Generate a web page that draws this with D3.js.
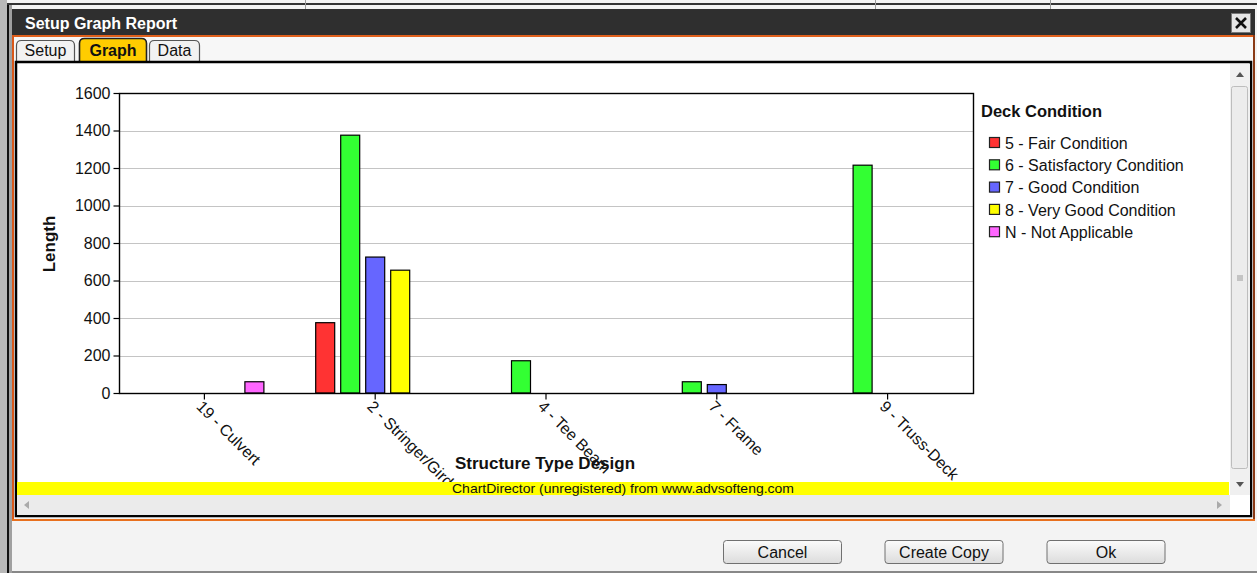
<!DOCTYPE html>
<html>
<head>
<meta charset="utf-8">
<script src="https://cdn.jsdelivr.net/npm/d3@7"></script>
<style>
  html, body { margin: 0; padding: 0; background: #f0f0f0; overflow: hidden; }
  svg { display: block; font-family: Arial, "Liberation Sans", sans-serif; }
</style>
</head>
<body>
<svg id="chart" width="1257" height="573"></svg>
<script>
// ---------- data ----------
const categories = ["19 - Culvert", "2 - Stringer/Girder", "4 - Tee Beam", "7 - Frame", "9 - Truss-Deck"];
const seriesNames = ["5 - Fair Condition", "6 - Satisfactory Condition", "7 - Good Condition", "8 - Very Good Condition", "N - Not Applicable"];
const fairCondition = [0, 375, 0, 0, 0];
const satisfactoryCondition = [0, 1375, 172, 60, 1215];
const goodCondition = [0, 725, 0, 45, 0];
const veryGoodCondition = [0, 655, 0, 0, 0];
const notApplicable = [60, 0, 0, 0, 0];
const seriesColors = ["#ff3333", "#33ff33", "#6666ff", "#ffff00", "#ff66ff"];
const yTicks = [0, 200, 400, 600, 800, 1000, 1200, 1400, 1600];
const seriesValues = [fairCondition, satisfactoryCondition, goodCondition, veryGoodCondition, notApplicable];

const svg = d3.select("#chart");

// ---------- window chrome ----------
svg.append("rect").attr("x", 0).attr("y", 0).attr("width", 1257).attr("height", 573).attr("fill", "#f3f3f3");
svg.append("rect").attr("x", 0).attr("y", 0).attr("width", 7).attr("height", 573).attr("fill", "#b8b8b8");
svg.append("rect").attr("x", 7).attr("y", 3).attr("width", 2).attr("height", 570).attr("fill", "#111");
svg.append("rect").attr("x", 9).attr("y", 3).attr("width", 3).attr("height", 570).attr("fill", "#a0a0a0");
svg.append("rect").attr("x", 7).attr("y", 3).attr("width", 1250).attr("height", 2).attr("fill", "#333");
svg.append("rect").attr("x", 12).attr("y", 571).attr("width", 1245).attr("height", 2).attr("fill", "#888");
[305, 875, 1050].forEach(x => svg.append("rect").attr("x", x).attr("y", 0).attr("width", 1).attr("height", 9).attr("fill", "#999"));

// title bar
svg.append("rect").attr("x", 12).attr("y", 9).attr("width", 1243).attr("height", 27).attr("fill", "#2f2f2f");
svg.append("text").attr("x", 25).attr("y", 29).attr("fill", "#fff").attr("font-size", 16).attr("font-weight", "bold").text("Setup Graph Report");
svg.append("rect").attr("x", 1231.5).attr("y", 13.5).attr("width", 19).attr("height", 19).attr("fill", "#e6e6e6").attr("stroke", "#777");
svg.append("path").attr("d", "M1236,18 L1246,28 M1246,18 L1236,28").attr("stroke", "#111").attr("stroke-width", 2.6);

// orange frame
svg.append("rect").attr("x", 12).attr("y", 35).attr("width", 1243).attr("height", 2).attr("fill", "#e0601c");
svg.append("rect").attr("x", 12).attr("y", 35).attr("width", 2).attr("height", 486).attr("fill", "#d9581a");
svg.append("rect").attr("x", 1253).attr("y", 35).attr("width", 2).attr("height", 486).attr("fill", "#8a3a16");
svg.append("rect").attr("x", 12).attr("y", 519).attr("width", 1243).attr("height", 2).attr("fill", "#e8701e");

// tab strip
svg.append("rect").attr("x", 14).attr("y", 37).attr("width", 1239).attr("height", 25).attr("fill", "#f7f7f7");
function tabPath(x0, x1, y0, y1, r) {
  return `M${x0},${y1} L${x0},${y0 + r} Q${x0},${y0} ${x0 + r},${y0} L${x1 - r},${y0} Q${x1},${y0} ${x1},${y0 + r} L${x1},${y1}`;
}
const tabs = [
  { name: "Setup", x0: 16.5, x1: 74.5, y0: 40.5, fill: "#f2f2f2", bold: false },
  { name: "Graph", x0: 79.5, x1: 146.5, y0: 38.5, fill: "#ffcc00", bold: true },
  { name: "Data", x0: 149.5, x1: 199.5, y0: 40.5, fill: "#f2f2f2", bold: false }
];
tabs.forEach(t => {
  svg.append("path").attr("d", tabPath(t.x0, t.x1, t.y0, 62, 5) + " Z").attr("fill", t.fill).attr("stroke", "none");
  svg.append("path").attr("d", tabPath(t.x0, t.x1, t.y0, 62, 5)).attr("fill", "none").attr("stroke", t.bold ? "#222" : "#555").attr("stroke-width", t.bold ? 1.6 : 1.2);
  svg.append("text").attr("x", (t.x0 + t.x1) / 2).attr("y", 56).attr("text-anchor", "middle")
    .attr("font-size", 16).attr("font-weight", t.bold ? "bold" : "normal").attr("fill", "#111").text(t.name);
});

// content panel
svg.append("rect").attr("x", 16).attr("y", 62).attr("width", 1235).attr("height", 454).attr("fill", "#fff").attr("stroke", "#000").attr("stroke-width", 2.5);

// vertical scrollbar
svg.append("rect").attr("x", 1230).attr("y", 64).attr("width", 20).attr("height", 431).attr("fill", "#f0f0f0");
svg.append("rect").attr("x", 1231.5).attr("y", 86.5).attr("width", 16).attr("height", 382).attr("rx", 2).attr("fill", "#ececec").attr("stroke", "#bdbdbd");
svg.append("path").attr("d", "M1236,77 L1244,77 L1240,72 Z").attr("fill", "#555");
svg.append("path").attr("d", "M1236,482 L1244,482 L1240,487 Z").attr("fill", "#555");
svg.append("path").attr("d", "M1237,276 L1243,276 M1237,278 L1243,278 M1237,280 L1243,280").attr("stroke", "#888").attr("stroke-width", 0.8);
// horizontal scrollbar
svg.append("rect").attr("x", 17).attr("y", 495).attr("width", 1213).attr("height", 20).attr("fill", "#ebebeb");
svg.append("rect").attr("x", 1230).attr("y", 495).attr("width", 20).attr("height", 20).attr("fill", "#fff");
svg.append("path").attr("d", "M29,501 L29,509 L24,505 Z").attr("fill", "#aaa");
svg.append("path").attr("d", "M1217,501 L1217,509 L1222,505 Z").attr("fill", "#aaa");

// buttons
const defs = svg.append("defs");
const grad = defs.append("linearGradient").attr("id", "btnGrad").attr("x1", 0).attr("y1", 0).attr("x2", 0).attr("y2", 1);
grad.append("stop").attr("offset", "0%").attr("stop-color", "#fbfbfb");
grad.append("stop").attr("offset", "100%").attr("stop-color", "#dcdcdc");
const buttons = [{ label: "Cancel", x: 723 }, { label: "Create Copy", x: 884.5 }, { label: "Ok", x: 1046.5 }];
buttons.forEach(b => {
  svg.append("rect").attr("x", b.x + 0.5).attr("y", 540.5).attr("width", 118).attr("height", 23).attr("rx", 3)
    .attr("fill", "url(#btnGrad)").attr("stroke", "#707070");
  svg.append("text").attr("x", b.x + 59.5).attr("y", 558).attr("text-anchor", "middle").attr("font-size", 16).attr("fill", "#111").text(b.label);
});

// ---------- chart ----------
const clip = defs.append("clipPath").attr("id", "chartClip");
clip.append("rect").attr("x", 17).attr("y", 64).attr("width", 1212).attr("height", 418);
const chart = svg.append("g").attr("clip-path", "url(#chartClip)");

const plot = { left: 119, right: 973, top: 93, bottom: 393 };
const x0 = d3.scaleBand().domain(categories).range([plot.left, plot.right]).padding(0);
const bw = x0.bandwidth();
const x1 = d3.scaleBand().domain(seriesNames).range([bw / 2 - 62.5, bw / 2 + 62.5]).paddingInner(0.2).paddingOuter(0.1);
const y = d3.scaleLinear().domain([0, 1600]).range([plot.bottom, plot.top]);

// gridlines
chart.append("g").selectAll("line").data(yTicks.filter(t => t > 0 && t < 1600)).join("line")
  .attr("x1", plot.left).attr("x2", plot.right)
  .attr("y1", d => Math.round(y(d)) + 0.5).attr("y2", d => Math.round(y(d)) + 0.5)
  .attr("stroke", "#c4c4c4").attr("stroke-width", 1.2);

// bars
const barData = [];
categories.forEach((c, ci) => {
  seriesNames.forEach((s, si) => {
    const v = seriesValues[si][ci];
    if (v > 0) barData.push({ c, s, v, color: seriesColors[si] });
  });
});
chart.append("g").selectAll("rect").data(barData).join("rect")
  .attr("x", d => x0(d.c) + x1(d.s) + 0.5)
  .attr("y", d => y(d.v))
  .attr("width", x1.bandwidth() - 1)
  .attr("height", d => plot.bottom - y(d.v))
  .attr("fill", d => d.color)
  .attr("stroke", "#000").attr("stroke-width", 1.2);

// plot border
chart.append("rect").attr("x", plot.left + 0.5).attr("y", plot.top + 0.5)
  .attr("width", plot.right - plot.left).attr("height", plot.bottom - plot.top)
  .attr("fill", "none").attr("stroke", "#000").attr("stroke-width", 1.4);

// y axis
const yAxis = d3.axisLeft(y).tickValues(yTicks).tickSize(6).tickPadding(3).tickFormat(d3.format("d"));
const yG = chart.append("g").attr("transform", `translate(${plot.left + 0.5},0)`).call(yAxis);
yG.select(".domain").remove();
yG.selectAll(".tick line").attr("stroke", "#000").attr("stroke-width", 1.2);
yG.selectAll(".tick text").attr("font-size", 16).attr("font-family", "Arial, 'Liberation Sans', sans-serif").attr("fill", "#111");

// x axis
const xAxis = d3.axisBottom(x0).tickSize(6).tickSizeOuter(0).tickFormat(d => d);
const xG = chart.append("g").attr("transform", `translate(0,${plot.bottom + 0.5})`).call(xAxis);
xG.select(".domain").remove();
xG.selectAll(".tick line").attr("stroke", "#000").attr("stroke-width", 1.2);
xG.selectAll(".tick text")
  .attr("font-size", 16).attr("font-family", "Arial, 'Liberation Sans', sans-serif").attr("fill", "#111")
  .attr("text-anchor", "start").attr("y", 0).attr("dy", "0.35em")
  .attr("transform", "translate(-5,10) rotate(45)");

// axis titles
chart.append("text").attr("transform", "translate(55,244) rotate(-90)").attr("text-anchor", "middle")
  .attr("font-size", 17).attr("font-weight", "bold").attr("fill", "#111").text("Length");
chart.append("text").attr("x", 545).attr("y", 469).attr("text-anchor", "middle")
  .attr("font-size", 17).attr("font-weight", "bold").attr("fill", "#111").text("Structure Type Design");

// legend
const lg = chart.append("g");
lg.append("text").attr("x", 981).attr("y", 116.5).attr("font-size", 16.5).attr("font-weight", "bold").attr("fill", "#111").text("Deck Condition");
seriesNames.forEach((s, i) => {
  const cy = 143 + i * 22.3;
  lg.append("rect").attr("x", 989.5).attr("y", cy - 5.5).attr("width", 10).attr("height", 10)
    .attr("fill", seriesColors[i]).attr("stroke", "#222").attr("stroke-width", 1.2);
  lg.append("text").attr("x", 1005).attr("y", cy).attr("dy", "0.35em").attr("font-size", 16).attr("fill", "#111").text(s);
});

// watermark band
svg.append("rect").attr("x", 17).attr("y", 482).attr("width", 1212).attr("height", 13).attr("fill", "#ffff00");
svg.append("text").attr("x", 452).attr("y", 493).attr("font-size", 13)
  .attr("font-family", "'Liberation Sans Narrow', Arial, sans-serif")
  .attr("textLength", 342).attr("lengthAdjust", "spacingAndGlyphs").attr("fill", "#111")
  .text("ChartDirector (unregistered) from www.advsofteng.com");
</script>
</body>
</html>
